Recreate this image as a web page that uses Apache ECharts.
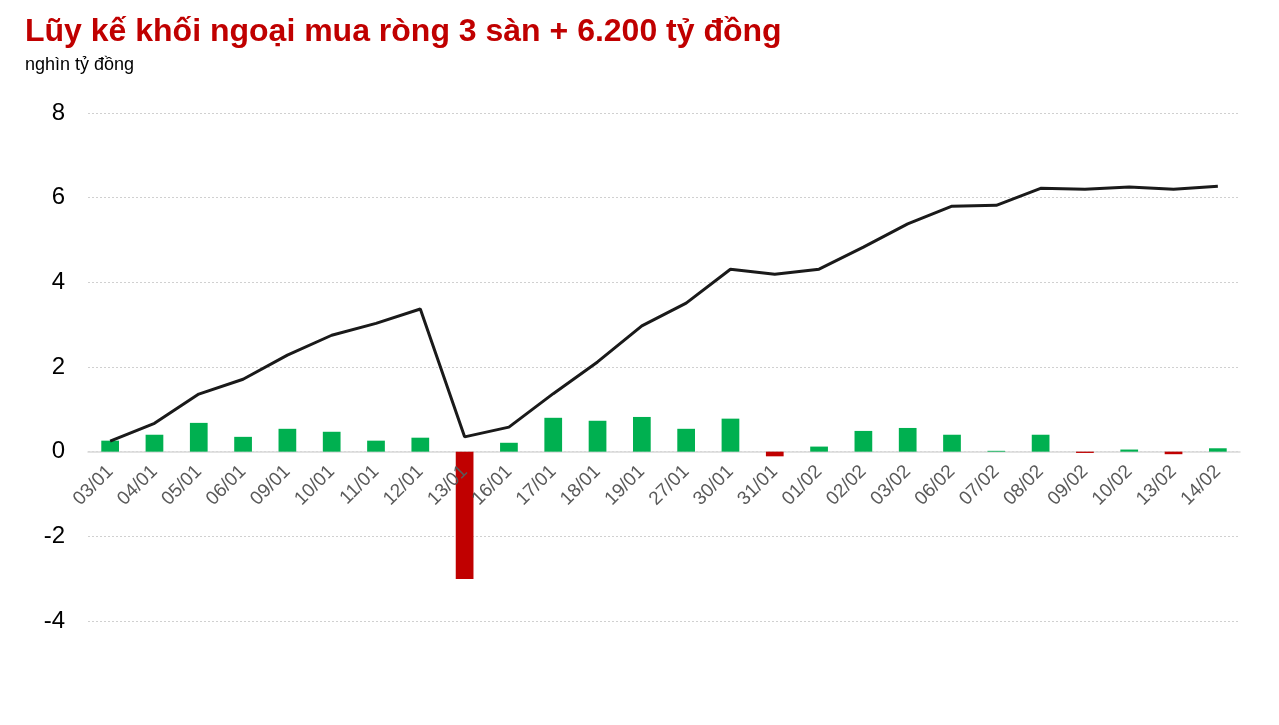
<!DOCTYPE html>
<html>
<head>
<meta charset="utf-8">
<script src="https://cdn.jsdelivr.net/npm/echarts@6/dist/echarts.min.js"></script>
<style>
  html, body { margin: 0; padding: 0; background: #fff; }
  #chart { width: 1279px; height: 725px; }
</style>
</head>
<body>
<div id="chart"></div>
<script>
// ngày giao dịch
const categories = ['03/01', '04/01', '05/01', '06/01', '09/01', '10/01', '11/01', '12/01', '13/01', '16/01',
  '17/01', '18/01', '19/01', '27/01', '30/01', '31/01', '01/02', '02/02', '03/02', '06/02',
  '07/02', '08/02', '09/02', '10/02', '13/02', '14/02']

// mua ròng từng phiên (nghìn tỷ)
const netBuy = [0.26, 0.40, 0.68, 0.35, 0.54, 0.47, 0.26, 0.33, -3.01, 0.21,
  0.80, 0.73, 0.82, 0.54, 0.78, -0.11, 0.12, 0.49, 0.56, 0.40,
  0.02, 0.40, -0.03, 0.05, -0.06, 0.08]

// lũy kế
const cumulative = [0.25, 0.67, 1.36, 1.71, 2.28, 2.75, 3.03, 3.37, 0.35, 0.58,
  1.37, 2.12, 2.97, 3.51, 4.31, 4.19, 4.31, 4.83, 5.38, 5.80,
  5.82, 6.22, 6.20, 6.25, 6.20, 6.27]

const yMin = -4
const yMax = 8
const gridTop = 113
const gridHeight = 508
// trục x nằm ở mức 0
const zeroOffset = -gridHeight * (0 - yMin) / (yMax - yMin)

const chart = echarts.init(document.getElementById('chart'))

chart.setOption({
  animation: false,
  title: [
    {
      text: 'Lũy kế khối ngoại mua ròng 3 sàn + 6.200 tỷ đồng',
      left: 20,
      top: 11,
      textStyle: { color: '#C00000', fontSize: 32, fontWeight: 'bold', fontFamily: 'Liberation Sans' }
    },
    {
      text: 'nghìn tỷ đồng',
      left: 20,
      top: 51,
      textStyle: { color: '#000', fontSize: 18, fontWeight: 'normal', fontFamily: 'Liberation Sans' }
    }
  ],
  grid: { left: 88, right: 39, top: gridTop, height: gridHeight },
  xAxis: [
    {
      // đường 0, nằm dưới cột
      type: 'category',
      data: categories,
      offset: zeroOffset,
      axisTick: { show: false },
      axisLine: { onZero: false, lineStyle: { color: '#d9d9d9', width: 1.5 } },
      axisLabel: { show: false }
    },
    {
      // nhãn ngày, vẽ đè lên cột
      type: 'category',
      data: categories,
      position: 'bottom',
      z: 5,
      offset: zeroOffset,
      axisTick: { show: false },
      axisLine: { show: false, onZero: false },
      axisLabel: {
        rotate: 45,
        interval: 0,
        color: '#595959',
        fontSize: 19,
        fontFamily: 'Liberation Sans',
        margin: 17
      }
    }
  ],
  yAxis: {
    type: 'value',
    min: yMin,
    max: yMax,
    interval: 2,
    axisLine: { show: false },
    axisTick: { show: false },
    axisLabel: { color: '#000', fontSize: 24, fontFamily: 'Liberation Sans', margin: 23 },
    splitLine: { lineStyle: { color: '#d0d0d0', type: [2, 2], width: 1 } }
  },
  series: [
    {
      type: 'bar',
      data: netBuy.map(v => ({
        value: v,
        itemStyle: { color: v < 0 ? '#C00000' : '#00B050' }
      })),
      barWidth: '40%'
    },
    {
      type: 'line',
      data: cumulative,
      symbol: 'none',
      lineStyle: { color: '#1a1a1a', width: 3 },
      z: 3
    }
  ]
})
</script>
</body>
</html>
